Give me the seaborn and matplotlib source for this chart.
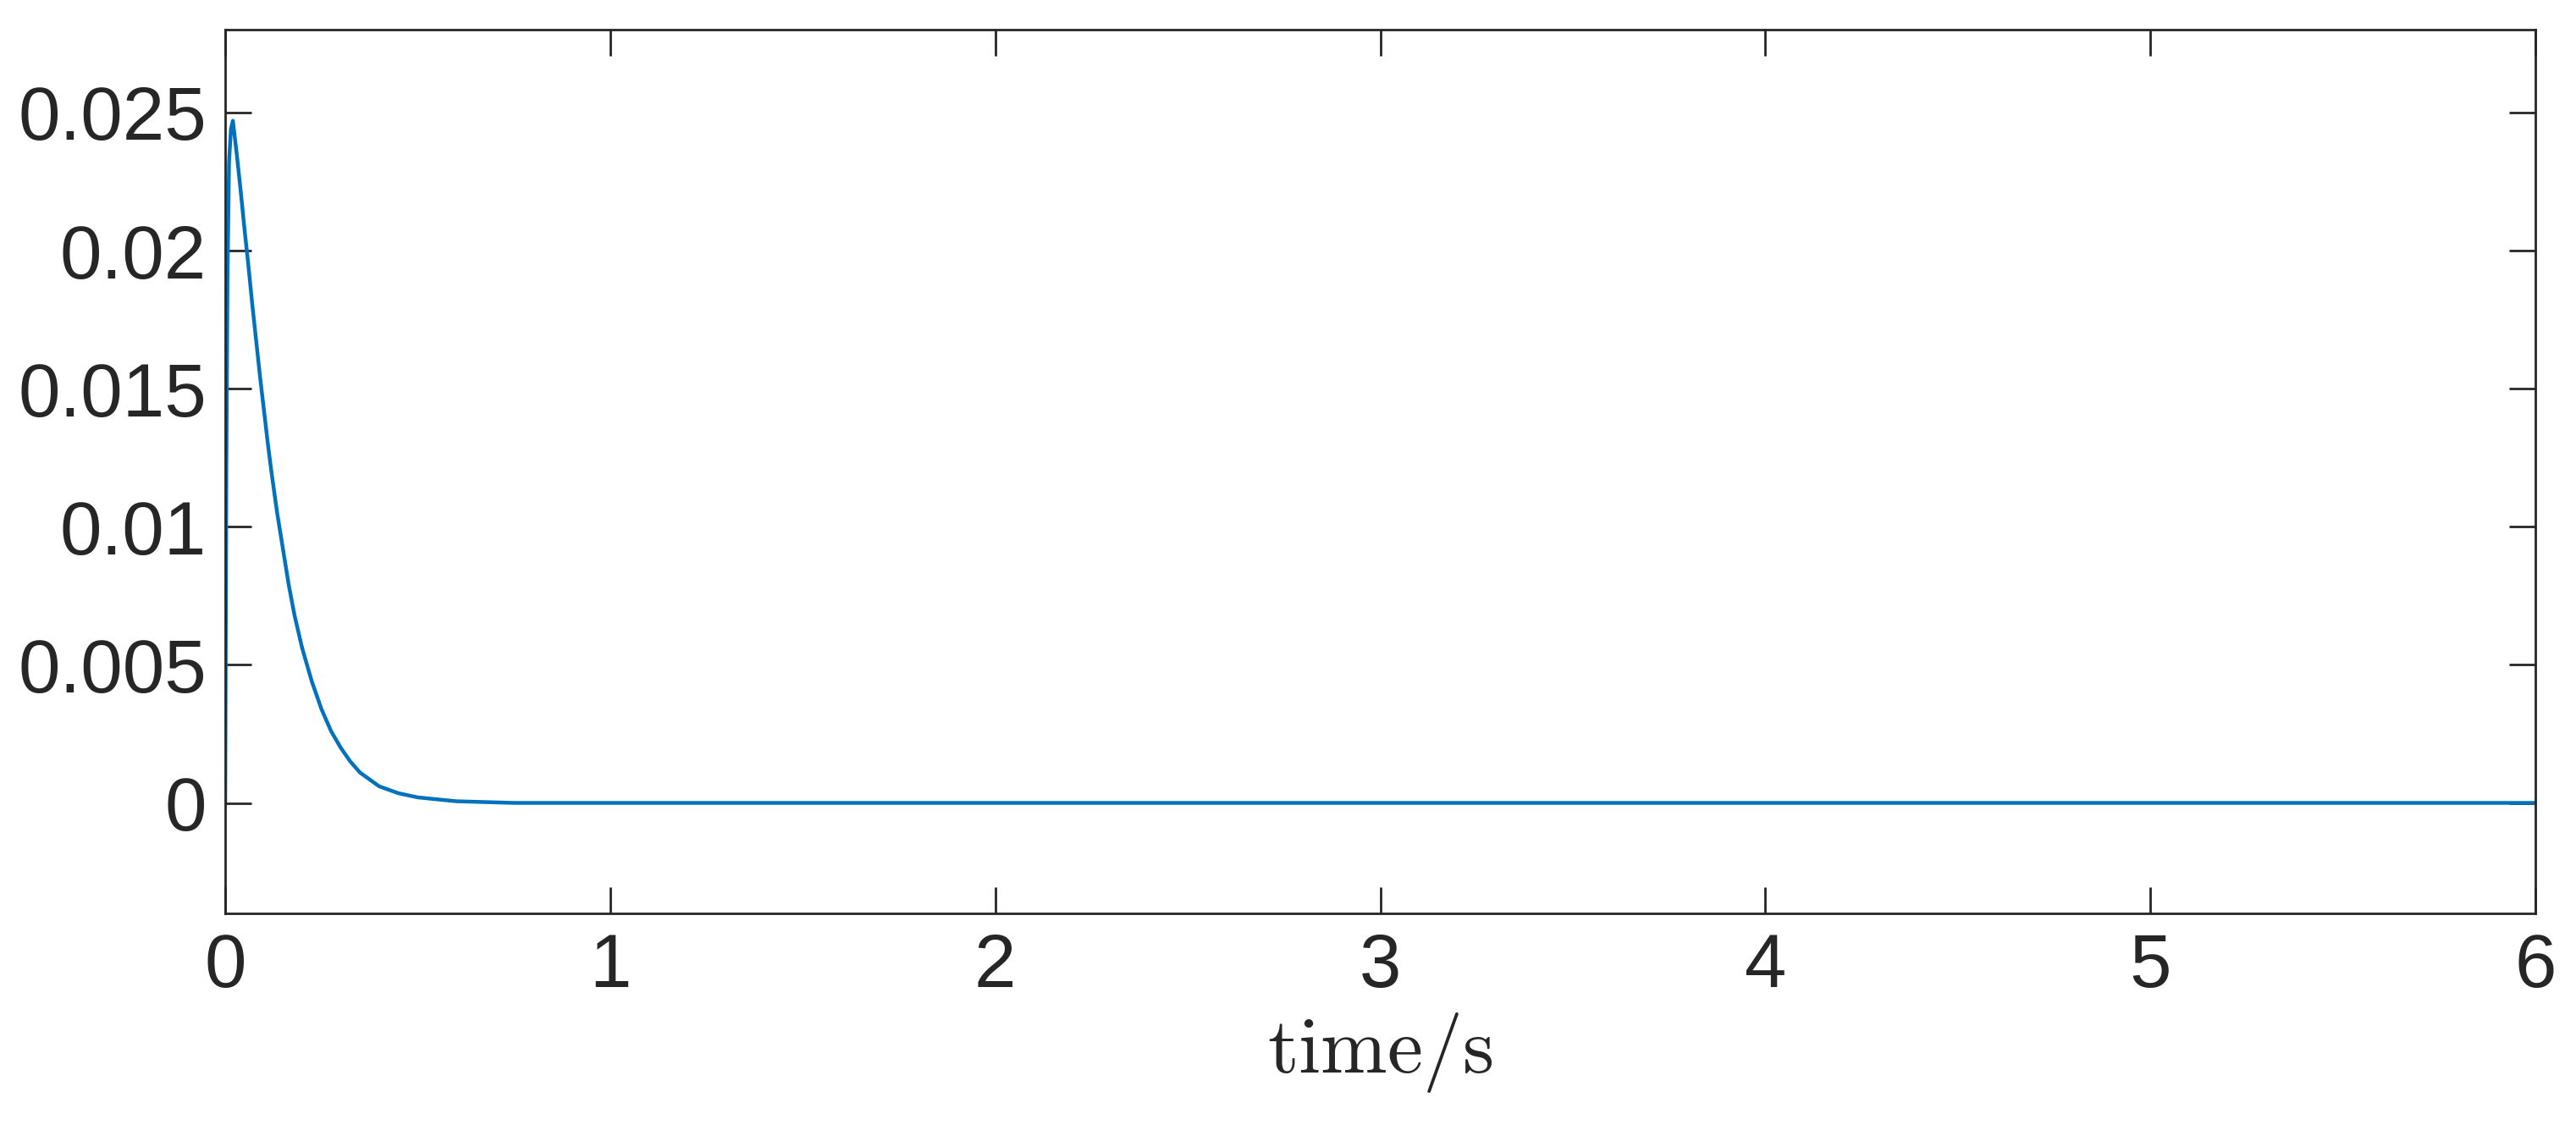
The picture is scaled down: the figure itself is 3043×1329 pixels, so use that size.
import matplotlib
matplotlib.use("Agg")
import matplotlib.pyplot as plt
import seaborn as sns
import pandas as pd

t = [0, 0.003, 0.006, 0.01, 0.015, 0.02, 0.03, 0.04, 0.05, 0.06, 0.07, 0.08, 0.09, 0.1, 0.11, 0.12, 0.135, 0.15, 0.165, 0.18, 0.2, 0.225, 0.25, 0.275, 0.3, 0.325, 0.35, 0.4, 0.45, 0.5, 0.6, 0.75, 1.0, 6.0]
y = [0, 0.012, 0.019, 0.0232, 0.0244, 0.0247, 0.0235, 0.0222, 0.0208, 0.0195, 0.0181, 0.0168, 0.0155, 0.0143, 0.0131, 0.0120, 0.0105, 0.0092, 0.0079, 0.0068, 0.0056, 0.0044, 0.0034, 0.0026, 0.0020, 0.0015, 0.0011, 0.0006, 0.00035, 0.0002, 0.00006, 0.0, 0.0, 0.0]
xticks = [0, 1, 2, 3, 4, 5, 6]
yticks = [0, 0.005, 0.01, 0.015, 0.02, 0.025]
yticklabels = ["0", "0.005", "0.01", "0.015", "0.02", "0.025"]

sns.set_style("white")
plt.rcParams['font.family'] = ['Liberation Sans', 'DejaVu Sans']
plt.rcParams['mathtext.fontset'] = 'cm'

fig = plt.figure(figsize=(30.43, 13.29), dpi=100)
ax = fig.add_axes([266/3043, 1-1079/1329, (2995-266)/3043, (1079-35)/1329])
df = pd.DataFrame({"t": t, "y": y})
sns.lineplot(data=df, x="t", y="y", ax=ax, color="#0072BD", linewidth=3.2)
ax.set_xlim(0, 6)
ax.set_ylim(-0.004, 0.028)
ax.set_xticks(xticks)
ax.set_xticklabels([str(v) for v in xticks])
ax.set_yticks(yticks)
ax.set_yticklabels(yticklabels)
ax.tick_params(direction='in', length=22, width=2, bottom=True, left=True, top=True, right=True,
               labelsize=64, colors='#262626', pad=16)
for s in ax.spines.values():
    s.set_linewidth(2)
    s.set_color('#262626')
ax.set_xlabel(r"$\mathrm{time/s}$", fontsize=68, labelpad=6)
ax.set_ylabel("")
fig.savefig("out.png", dpi=100)
